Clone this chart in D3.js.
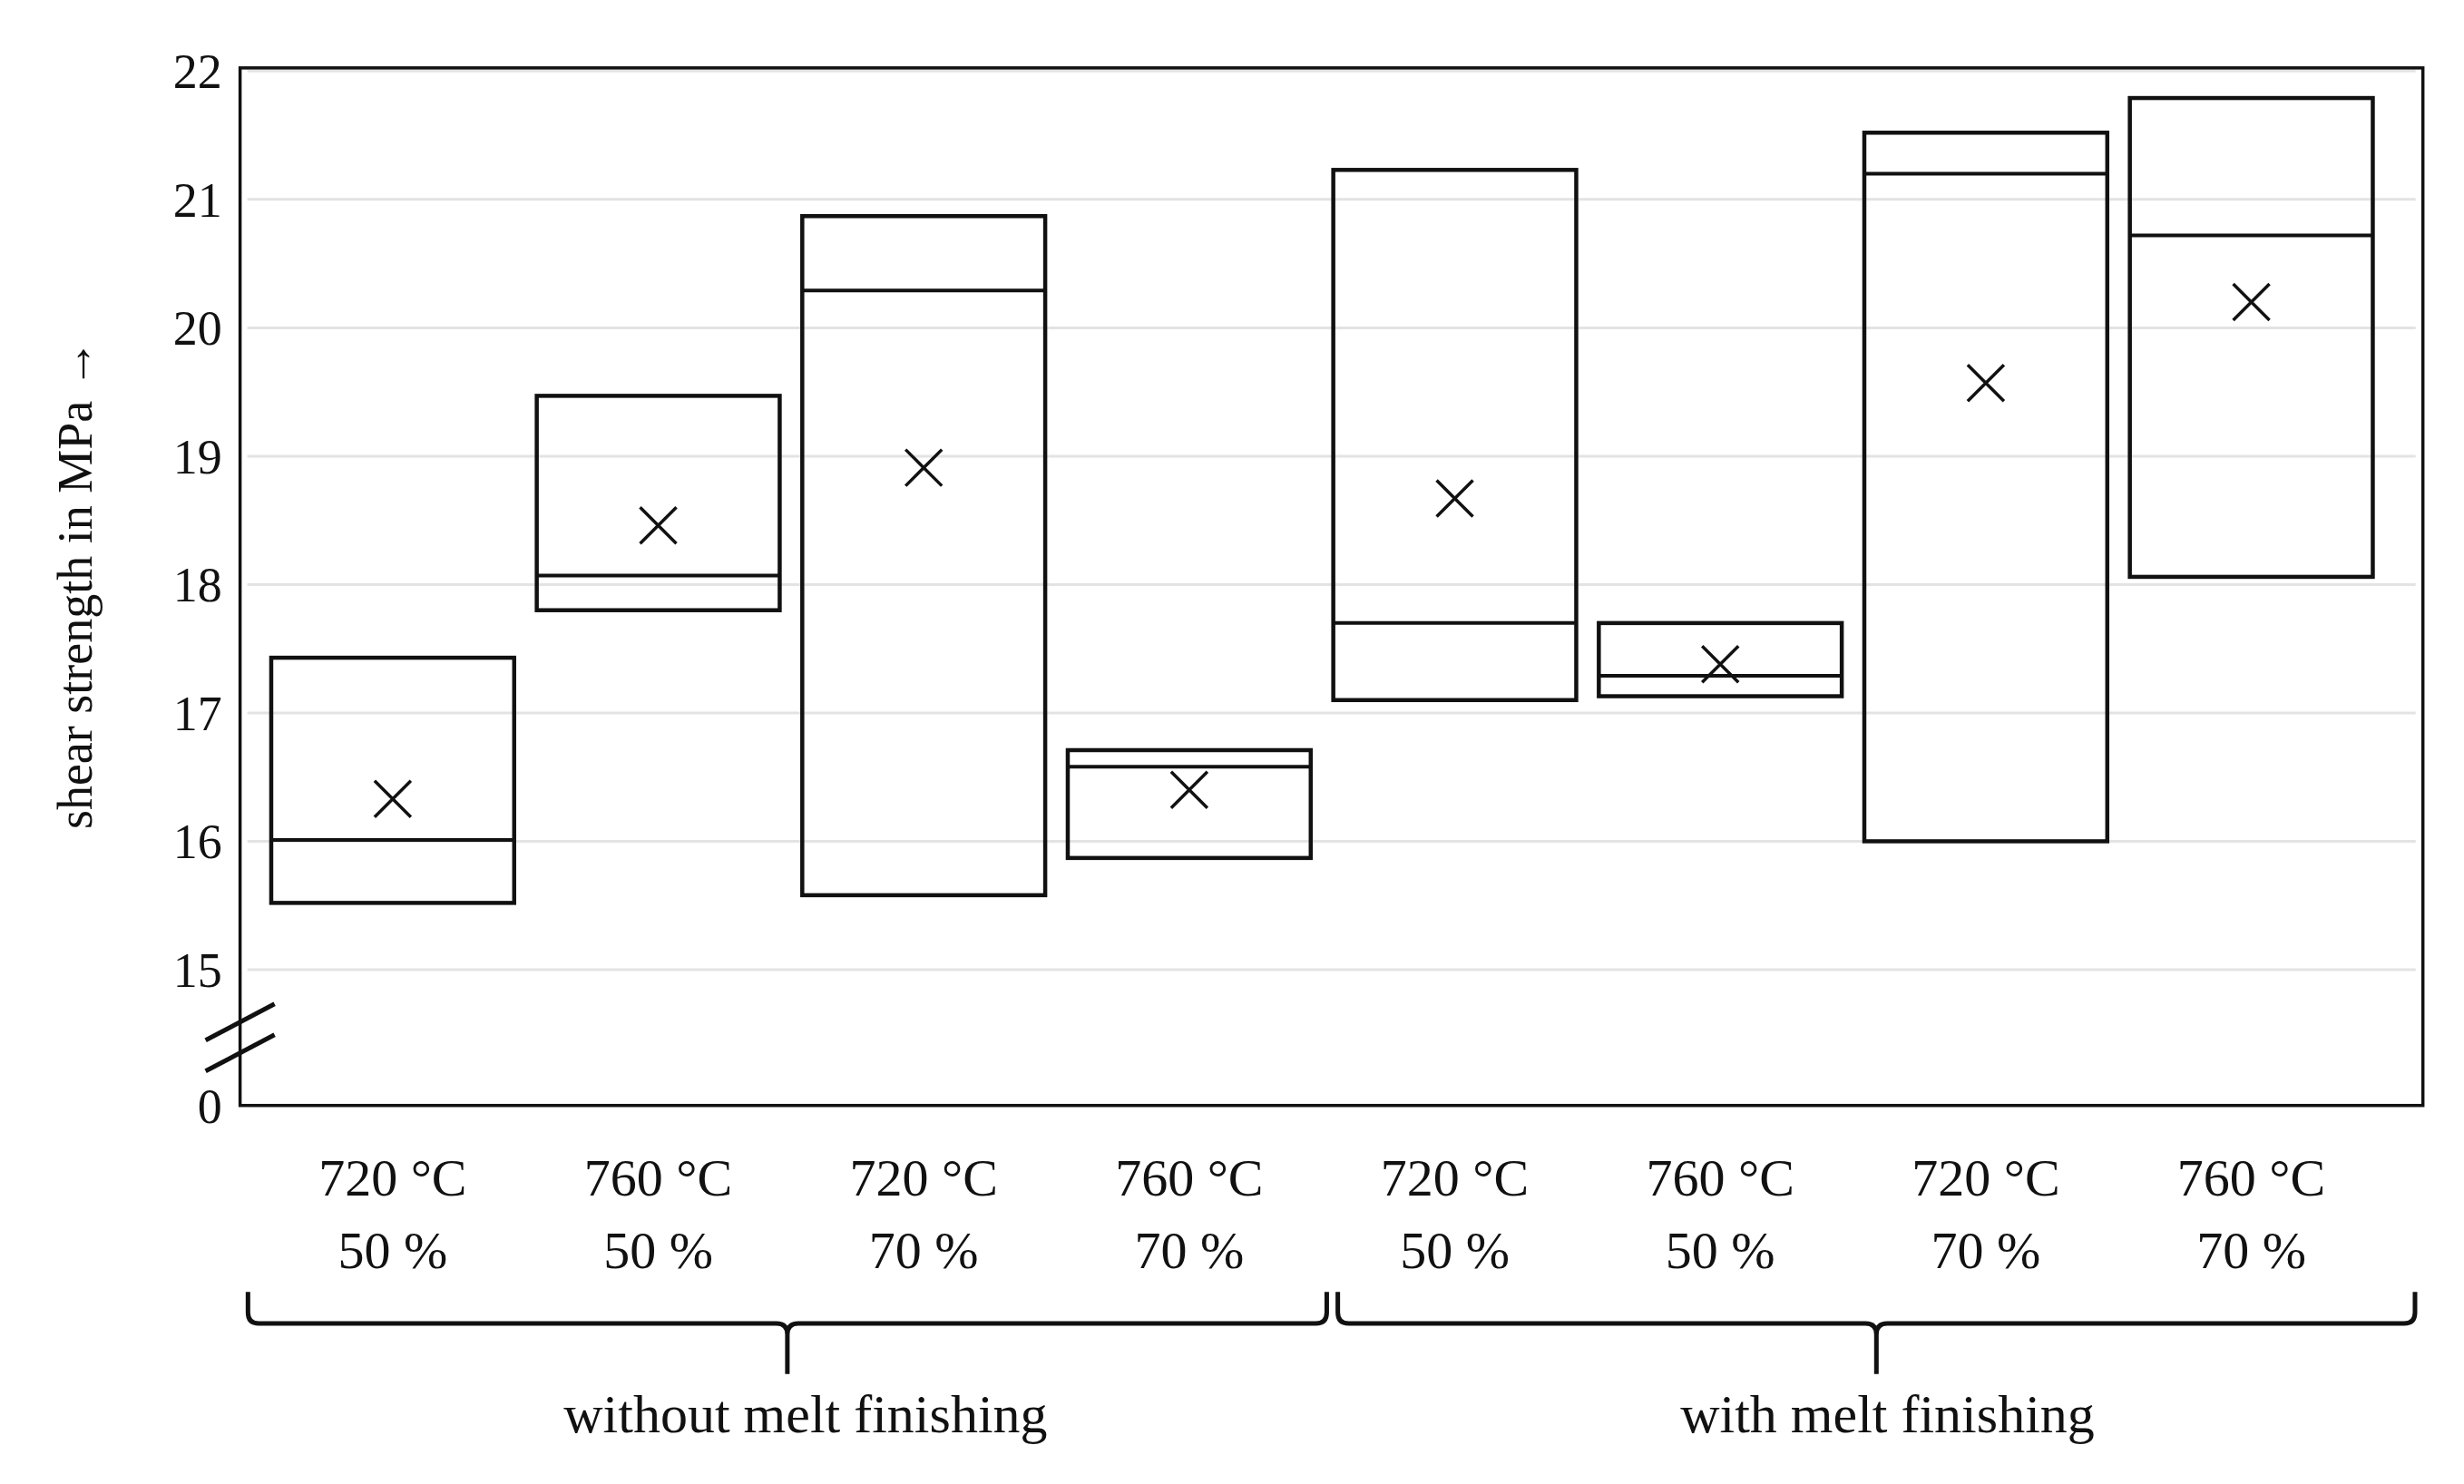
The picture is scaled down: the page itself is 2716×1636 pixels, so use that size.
<!DOCTYPE html>
<html><head><meta charset="utf-8">
<script src="https://cdn.jsdelivr.net/npm/d3@7"></script>
<style>body{margin:0;background:#fff}</style></head>
<body><svg id="c" width="2716" height="1636"></svg>
<script>
const temps = ["720 °C","760 °C","720 °C","760 °C","720 °C","760 °C","720 °C","760 °C"];
const ratios = ["50 %","50 %","70 %","70 %","50 %","50 %","70 %","70 %"];
const maxV  = [17.43,19.47,20.87,16.71,21.23,17.70,21.52,21.79];
const minV  = [15.52,17.80,15.58,15.87,17.10,17.13,16.00,18.06];
const medV  = [16.01,18.07,20.29,16.58,17.70,17.29,21.20,20.72];
const meanV = [16.33,18.46,18.91,16.40,18.67,17.38,19.57,20.20];
const yTicks = [0,15,16,17,18,19,20,21,22];
const groups = ["without melt finishing","with melt finishing"];

const s = 1.741;
const svg = d3.select("#c");
const L=152*s, R=1534*s, T=43*s, B=700*s;
const y = d3.scaleLinear().domain([0,15,22]).range([B,614*s,45*s]);
const x = d3.scaleBand().domain(d3.range(8)).range([165*s,1509*s]).paddingInner(0.085).paddingOuter(0.04);
const font = "'Liberation Serif', 'DejaVu Serif', serif";

// grid
svg.selectAll(".g").data(yTicks).enter().append("line")
  .attr("x1",L+8).attr("x2",R-8).attr("y1",d=>y(d)).attr("y2",d=>y(d))
  .attr("stroke","#e3e3e3").attr("stroke-width",3);
// frame
svg.append("rect").attr("x",L).attr("y",T).attr("width",R-L).attr("height",B-T)
  .attr("fill","none").attr("stroke","#111").attr("stroke-width",3.5);
// y tick labels
svg.selectAll(".t").data(yTicks).enter().append("text")
  .attr("x",L-20).attr("y",d=>y(d)).attr("dy","0.35em").attr("text-anchor","end")
  .attr("font-family",font).attr("font-size",54).attr("fill","#111").text(d=>d);
// break marks
const yb = (y(0)+y(15))/2;
[-17,17].forEach(o=>{
  svg.append("line").attr("x1",L-38).attr("y1",yb+o+20).attr("x2",L+38).attr("y2",yb+o-20)
    .attr("stroke","#111").attr("stroke-width",5);
});
// y label
svg.append("text").attr("transform",`translate(${47*s},${370*s}) rotate(-90)`)
  .attr("text-anchor","middle").attr("dy","0.35em").attr("font-family",font).attr("font-size",54)
  .attr("fill","#111").text("shear strength in MPa →");

const idx = d3.range(8);
svg.selectAll(".box").data(idx).enter().append("rect")
  .attr("x",i=>x(i)).attr("width",x.bandwidth())
  .attr("y",i=>y(maxV[i])).attr("height",i=>y(minV[i])-y(maxV[i]))
  .attr("fill","none").attr("stroke","#111").attr("stroke-width",4.5);
svg.selectAll(".med").data(idx).enter().append("line")
  .attr("x1",i=>x(i)).attr("x2",i=>x(i)+x.bandwidth())
  .attr("y1",i=>y(medV[i])).attr("y2",i=>y(medV[i]))
  .attr("stroke","#111").attr("stroke-width",4);
const m=20;
idx.forEach(i=>{
  const cx=x(i)+x.bandwidth()/2, cy=y(meanV[i]);
  svg.append("path").attr("d",`M${cx-m},${cy-m}L${cx+m},${cy+m}M${cx-m},${cy+m}L${cx+m},${cy-m}`)
    .attr("stroke","#111").attr("stroke-width",3.5);
  svg.append("text").attr("x",cx).attr("y",757*s).attr("text-anchor","middle")
    .attr("font-family",font).attr("font-size",58).attr("fill","#111").text(temps[i]);
  svg.append("text").attr("x",cx).attr("y",803*s).attr("text-anchor","middle")
    .attr("font-family",font).attr("font-size",58).attr("fill","#111").text(ratios[i]);
});
// braces
function brace(x0,x1){
  const xm=(x0+x1)/2, yt=818*s, yl=838*s, yd=870*s, r=12;
  svg.append("path").attr("d",
    `M${x0},${yt} L${x0},${yl-r} Q${x0},${yl} ${x0+r},${yl} L${xm-r},${yl} Q${xm},${yl} ${xm},${yl+r} L${xm},${yd} M${xm},${yl+r} Q${xm},${yl} ${xm+r},${yl} L${x1-r},${yl} Q${x1},${yl} ${x1},${yl-r} L${x1},${yt}`)
    .attr("fill","none").attr("stroke","#111").attr("stroke-width",5);
}
brace(157*s,840*s); brace(847*s,1529*s);
[[510,groups[0]],[1195,groups[1]]].forEach(([cx,t])=>{
  svg.append("text").attr("x",cx*s).attr("y",907*s).attr("text-anchor","middle")
    .attr("font-family",font).attr("font-size",60).attr("fill","#111").text(t);
});
</script></body></html>
